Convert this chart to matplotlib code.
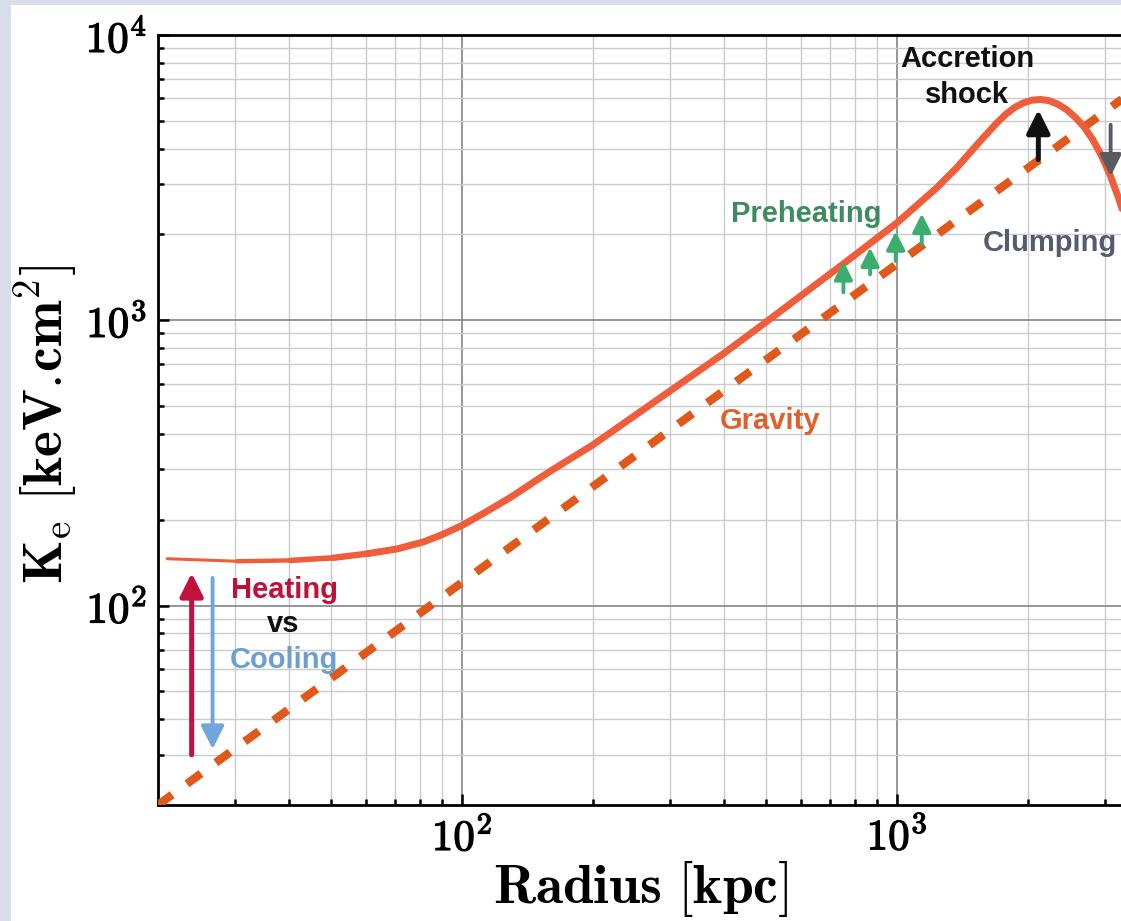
import numpy as np
import matplotlib
matplotlib.use('Agg')
import matplotlib.pyplot as plt
import matplotlib.patheffects as pe
from matplotlib.collections import LineCollection
from matplotlib.patches import Rectangle
from matplotlib.ticker import FixedLocator, FuncFormatter, LogLocator, NullFormatter

plt.rcParams['mathtext.fontset'] = 'cm'

# entropy profile of the gas (radius in kpc, K in keV cm^2)
radius = [21, 30.4, 40.3, 50.5, 60.5, 70.9, 81.3, 89, 100, 111.7, 129, 159, 200, 298,
          398, 498, 567, 753, 1000, 1233, 1370, 1496, 1585, 1698, 1778, 1862, 1950,
          2042, 2138, 2239, 2344, 2455, 2570, 2692, 2818, 2951, 3090, 3236, 3388, 3548]
entropy = [146, 143, 144, 147, 152, 158, 167, 176, 191, 210, 239, 295, 366, 560,
           762, 982, 1140, 1578, 2197, 2910, 3420, 3981, 4395, 4925, 5272, 5567, 5781,
           5909, 5943, 5882, 5721, 5470, 5146, 4759, 4300, 3780, 3225, 2665, 2141, 1692]

# self-similar baseline from gravity alone
radius_grav = [20, 3350]
entropy_grav = [20, 6080]

# process arrows: radius, start K, end K
heat_arrow = (23.9, 30.0, 130.0)
cool_arrow = (26.7, 125.0, 31.4)
preheat_r = [753, 867, 993, 1140]
preheat_from = [1254, 1449, 1613, 1845]
preheat_to = [1613, 1799, 2052, 2366]
shock_arrow = (2113, 3657, 5470)
clump_arrow = (3098, 4843, 3198)

fig = plt.figure(figsize=(11.21, 9.21), dpi=100, facecolor='#d7deea')
fig.patches.append(Rectangle((11 / 1121, 0), 1, 916 / 921, transform=fig.transFigure,
                             facecolor='white', edgecolor='none', zorder=-1))

ax = fig.add_axes([158 / 1121, 116 / 921, 967.4 / 1121, 770 / 921])
ax.set_xscale('log')
ax.set_yscale('log')
ax.set_xlim(20, 3350)
ax.set_ylim(20, 10000)

ax.plot(radius_grav, entropy_grav, color='#e0581a', lw=6, ls=(0, (2.1, 2.2)),
        solid_capstyle='butt', zorder=3)

# the profile thins out towards the centre
n_taper = 4
pts = np.column_stack([radius, entropy])
segs = [pts[i:i + 2] for i in range(n_taper)]
ax.add_collection(LineCollection(segs, colors='#ef5d3b', linewidths=[2.2, 3.2, 4.0, 4.6],
                                 capstyle='round', zorder=4))
ax.plot(radius[n_taper:], entropy[n_taper:], color='#ef5d3b', lw=5,
        solid_capstyle='round', solid_joinstyle='round', zorder=4)


def arrow(r, k0, k1, color, lw, ms, hl=1.0, hw=0.5):
    ax.annotate('', xy=(r, k1), xytext=(r, k0),
                arrowprops=dict(arrowstyle=f'-|>,head_length={hl},head_width={hw}',
                                color=color, lw=lw, mutation_scale=ms,
                                shrinkA=0, shrinkB=0), zorder=5)


arrow(*heat_arrow, '#c4103c', 3.6, 14)
arrow(*cool_arrow, '#6fa6dc', 2.8, 14)
for r, k0, k1 in zip(preheat_r, preheat_from, preheat_to):
    arrow(r, k0, k1, '#3aae6e', 2.8, 11)
arrow(*shock_arrow, '#111111', 3.6, 14)
arrow(*clump_arrow, '#585c62', 2.8, 13)

label_kw = dict(fontfamily='Liberation Sans', fontweight='bold', fontsize=21,
                ha='center', va='baseline', zorder=6)
ax.text(1449, 7731, 'Accretion', color='#111111', **label_kw)
ax.text(1449, 5782, 'shock', color='#111111', **label_kw)
ax.text(618, 2208, 'Preheating', color='#3d8c5e', **label_kw)
ax.text(2249, 1747, 'Clumping', color='#545c70', **label_kw)
ax.text(511, 416, 'Gravity', color='#e0602a', **label_kw)
ax.text(39.0, 106.6, 'Heating', color='#c0103a', **label_kw)
ax.text(38.7, 81.1, 'vs', color='#111111', **label_kw)
ax.text(39.0, 60.3, 'Cooling', color='#6b9fd4', **label_kw)

# grid and ticks
ax.set_axisbelow(True)
ax.xaxis.set_major_locator(FixedLocator([100, 1000]))
ax.yaxis.set_major_locator(FixedLocator([100, 1000, 10000]))
ax.xaxis.set_minor_locator(LogLocator(base=10, subs=np.arange(2, 10)))
ax.yaxis.set_minor_locator(LogLocator(base=10, subs=np.arange(2, 10)))
fmt = FuncFormatter(lambda v, p: r'$\mathbf{10}^{\mathbf{%d}}$' % int(round(np.log10(v))))
ax.xaxis.set_major_formatter(fmt)
ax.yaxis.set_major_formatter(fmt)
ax.xaxis.set_minor_formatter(NullFormatter())
ax.yaxis.set_minor_formatter(NullFormatter())
ax.grid(which='major', color='#8e8e8e', lw=1.3)
ax.grid(which='minor', color='#cbcbcb', lw=1.0)
ax.tick_params(which='both', direction='in', color='black', width=1.8, labelsize=31)
ax.tick_params(which='major', length=8)
ax.tick_params(which='minor', length=4)
ax.tick_params(axis='x', pad=8)
ax.tick_params(axis='y', pad=8)
for side in ['left', 'bottom', 'top']:
    ax.spines[side].set_linewidth(2)
ax.spines['right'].set_visible(False)

bold = [pe.withStroke(linewidth=0.9, foreground='black')]
for lab in ax.get_xticklabels() + ax.get_yticklabels():
    lab.set_path_effects(bold)

fig.text(641 / 1121, 18 / 921, r'$\mathbf{Radius\ [kpc]}$', fontsize=40,
         ha='center', va='baseline')
fig.text(46 / 1121, 1 - 424 / 921,
         r'$\mathbf{K}_{\mathrm{e}}\ \mathbf{[keV.}\!\mathbf{cm}^{\mathbf{2}}\mathbf{]}$',
         fontsize=40, rotation=90, ha='center', va='center')

fig.savefig('out.png', dpi=100, facecolor=fig.get_facecolor())
